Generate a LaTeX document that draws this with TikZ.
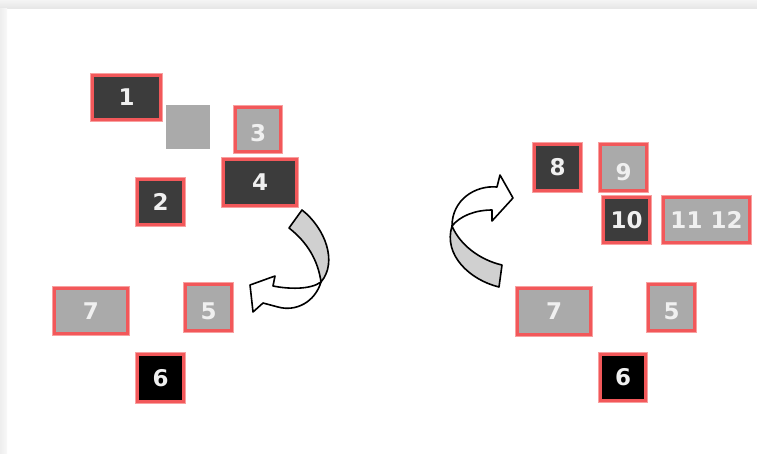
\documentclass[tikz,border=0pt]{standalone}
\usepackage{fontspec}
\setmainfont{DejaVu Sans}
\begin{document}
\begin{tikzpicture}[x=1pt,y=-1pt,
  every node/.style={inner sep=0pt,outer sep=0pt},
  redline/.style={draw={rgb,255:red,242;green,88;blue,90},line width=3.2pt,
    preaction={draw={rgb,255:red,248;green,160;blue,160},line width=5pt}},
  txt/.style={text={rgb,255:red,240;green,240;blue,240},font=\bfseries\fontsize{23}{23}\selectfont,
    text height=16.8pt,text depth=0pt},
  dk/.style={rectangle,redline,fill={rgb,255:red,60;green,60;blue,60},txt},
  lt/.style={rectangle,redline,fill={rgb,255:red,170;green,170;blue,170},txt},
  bk/.style={rectangle,redline,fill=black,txt},
  plain/.style={rectangle,fill={rgb,255:red,170;green,170;blue,170}},
  arrback/.style={draw=black,line width=1.6pt,line join=round,fill={rgb,255:red,208;green,208;blue,208}},
  arrfront/.style={draw=black,line width=1.6pt,line join=round,fill=white}
]
\useasboundingbox (0,0) rectangle (757,453);
\fill[white] (0,0) rectangle (757,453);
\shade[top color={rgb,255:red,244;green,244;blue,244},bottom color={rgb,255:red,230;green,230;blue,230}] (0,0) rectangle (757,8.5);
\shade[left color={rgb,255:red,238;green,238;blue,238},right color={rgb,255:red,248;green,248;blue,248}] (0,8.5) rectangle (7,453);

% left group
\node[dk,minimum width=68pt,minimum height=44pt] (n1) at (126.5,97.5) {1};
\node[plain,minimum width=44pt,minimum height=44pt] (sq) at (188,127) {};
\node[lt,minimum width=45pt,minimum height=44pt] (n3) at (258,129.5) {\raisebox{-4pt}{3}};
\node[dk,minimum width=73pt,minimum height=46pt] (n4) at (260,182.5) {4};
\node[dk,minimum width=46pt,minimum height=45pt] (n2) at (160.5,202) {2};
\node[lt,minimum width=73pt,minimum height=45pt] (n7) at (91,311) {7};
\node[lt,minimum width=46pt,minimum height=46pt] (n5) at (208.5,307.5) {\raisebox{-4pt}{5}};
\node[bk,minimum width=46pt,minimum height=47pt] (n6) at (160.5,378) {6};

% right group
\node[dk,minimum width=46pt,minimum height=46pt] (m8) at (557.5,167.5) {8};
\node[lt,minimum width=46pt,minimum height=46pt] (m9) at (623.5,167.5) {\raisebox{-5pt}{9}};
\node[dk,minimum width=46pt,minimum height=45pt] (m10) at (626.5,220) {10};
\node[lt,minimum width=86pt,minimum height=45pt] (m11) at (706.5,220) {11 12};
\node[lt,minimum width=73pt,minimum height=46pt] (m7) at (554,311.5) {7};
\node[lt,minimum width=46pt,minimum height=46pt] (m5) at (671.5,307.5) {\raisebox{-4pt}{5}};
\node[bk,minimum width=45pt,minimum height=46pt] (m6) at (623,377.5) {6};

% left curved arrow
\draw[arrback] (289,228) -- (302,210) .. controls (325,228) and (338,262) .. (321,282)
  .. controls (318,260) and (307,242) .. (289,228) -- cycle;
\draw[arrfront] (321,282) .. controls (310,290) and (288,289) .. (273,286) -- (275,276) -- (250,285)
  -- (253,312) -- (263,303) -- (278,307) .. controls (296,312) and (315,302) .. (321,282) -- cycle;

% right curved arrow
\draw[arrback] (452,226) .. controls (443,255) and (470,280) .. (499,287) -- (502,265)
  .. controls (480,260) and (460,245) .. (452,226) -- cycle;
\draw[arrfront] (452,226) .. controls (452,200) and (475,185) .. (497,187) -- (500,175) -- (513,198)
  -- (492,221) -- (492,210) .. controls (475,210) and (460,216) .. (452,226) -- cycle;
\end{tikzpicture}
\end{document}
